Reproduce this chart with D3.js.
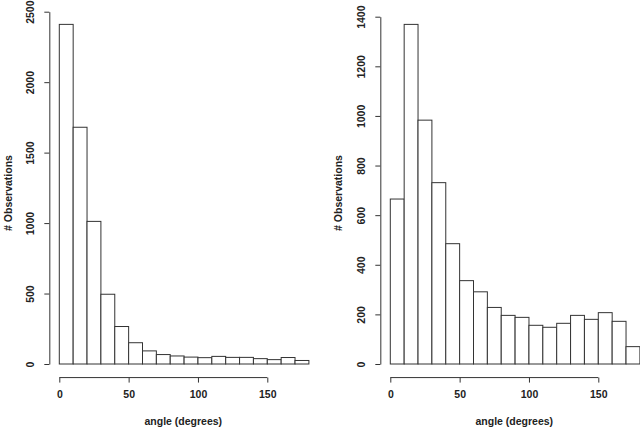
<!DOCTYPE html>
<html>
<head>
<meta charset="utf-8">
<script src="https://cdn.jsdelivr.net/npm/d3@7"></script>
<style>
  body { margin: 0; background: #fff; }
  text { font-family: "Liberation Sans", Arial, sans-serif; font-weight: bold; fill: #222; }
</style>
</head>
<body>
<svg id="chart" width="640" height="427"></svg>
<script>
// bin edges (degrees), 10 wide
const binStarts = [0, 10, 20, 30, 40, 50, 60, 70, 80, 90, 100, 110, 120, 130, 140, 150, 160, 170];
const binWidth = 10;

const countsLeft = [2410, 1680, 1012, 495, 266, 151, 93, 67, 57, 49, 45, 54, 47, 47, 38, 31, 46, 25];
const countsRight = [665, 1369, 983, 731, 485, 336, 291, 228, 196, 188, 156, 148, 164, 196, 180, 207, 172, 70];

const xTicks = [0, 50, 100, 150];
const yTicksLeft = [0, 500, 1000, 1500, 2000, 2500];
const yTicksRight = [0, 200, 400, 600, 800, 1000, 1200, 1400];

const xLabel = "angle (degrees)";
const yLabel = "# Observations";

const svg = d3.select("#chart");
const ink = "#333";

function histogram(counts, yTicks, opts) {
  const x = d3.scaleLinear().domain([0, 180]).range([opts.x0, opts.x0 + 249.6]);
  const y = d3.scaleLinear().domain([0, d3.max(yTicks)]).range([364, opts.yTop]);

  const g = svg.append("g");

  // R puts axes 4% outside the data range
  const axisX = x(-7.2);
  const axisY = y(-0.04 * d3.max(counts));

  g.selectAll("rect")
    .data(binStarts)
    .enter().append("rect")
    .attr("x", d => x(d))
    .attr("y", (d, i) => y(counts[i]))
    .attr("width", x(binWidth) - x(0))
    .attr("height", (d, i) => y(0) - y(counts[i]))
    .attr("fill", "#fff")
    .attr("stroke", ink)
    .attr("stroke-width", 1);

  // x axis
  const gx = g.append("g")
    .attr("transform", `translate(0,${axisY})`)
    .call(d3.axisBottom(x).tickValues(xTicks).tickFormat(d3.format("d"))
      .tickSize(5).tickSizeOuter(0).tickPadding(8));
  gx.select(".domain").remove();
  gx.append("line")
    .attr("x1", x(0)).attr("x2", x(d3.max(xTicks)))
    .attr("stroke", ink);
  gx.selectAll(".tick line").attr("stroke", ink);
  gx.selectAll("text").attr("font-size", 10.5).attr("fill", "#222");

  // y axis with rotated labels
  const gy = g.append("g")
    .attr("transform", `translate(${axisX},0)`)
    .call(d3.axisLeft(y).tickValues(yTicks).tickFormat(d3.format("d"))
      .tickSize(5).tickSizeOuter(0));
  gy.select(".domain").attr("stroke", ink);
  gy.selectAll(".tick line").attr("stroke", ink);
  gy.selectAll("text")
    .attr("x", 0).attr("y", 0).attr("dy", "0.35em")
    .attr("text-anchor", "middle")
    .attr("transform", "translate(-19,0) rotate(-90)")
    .attr("font-size", 10.5).attr("fill", "#222");

  g.append("text")
    .attr("x", opts.x0 + 124).attr("y", 425)
    .attr("text-anchor", "middle")
    .attr("font-size", 10.5)
    .text(xLabel);

  g.append("text")
    .attr("transform", `translate(${opts.yLabX},193) rotate(-90)`)
    .attr("dy", "0.35em")
    .attr("text-anchor", "middle")
    .attr("font-size", 10.5)
    .text(yLabel);
}

histogram(countsLeft, yTicksLeft, {x0: 59.3, yTop: 11.7, yLabX: 8});
histogram(countsRight, yTicksRight, {x0: 390.3, yTop: 16.7, yLabX: 338.5});
</script>
</body>
</html>
